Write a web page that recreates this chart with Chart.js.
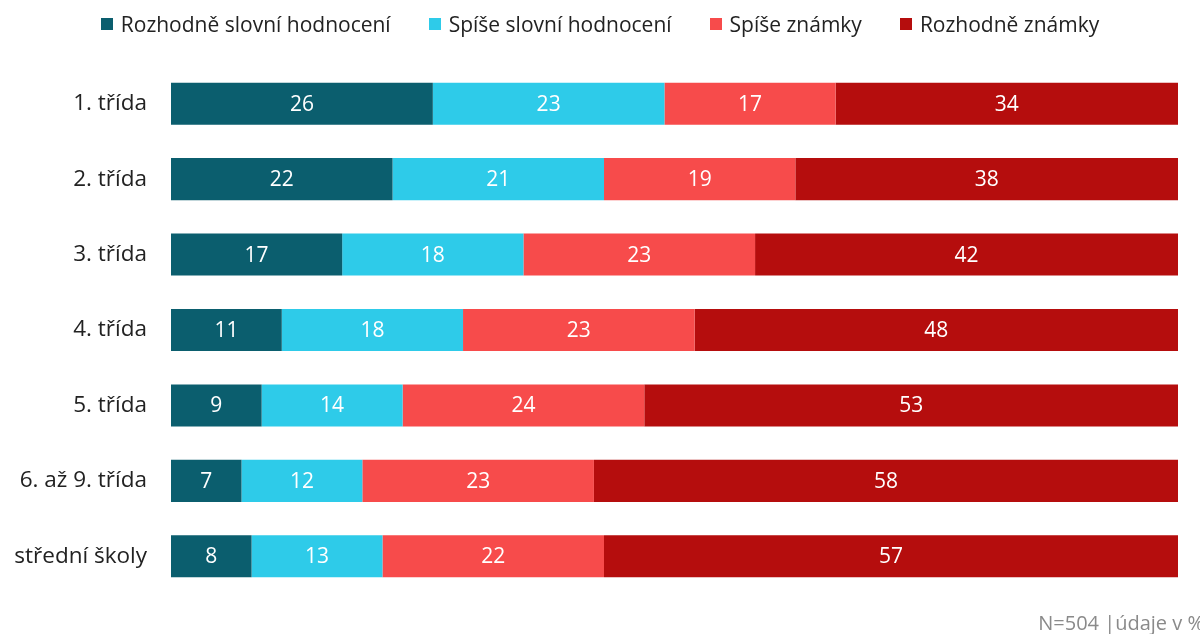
<!DOCTYPE html>
<html>
<head>
<meta charset="utf-8">
<script src="https://cdn.jsdelivr.net/npm/chart.js@4"></script>
<style>
  html, body { margin: 0; padding: 0; background: #fff; }
  #wrap { position: relative; width: 1200px; height: 634px; overflow: hidden; font-family: 'Open Sans', 'Noto Sans', sans-serif; }
  #legend { position: absolute; left: 0; right: 0; top: 10px; display: flex; justify-content: center; gap: 38px; font-size: 21px; color: #222; line-height: 28px; }
  #legend span.item { display: flex; align-items: center; }
  #legend span.box { display: inline-block; width: 12px; height: 12px; margin-right: 8px; }
  #foot { position: absolute; right: -4px; top: 609px; font-size: 20px; color: #8a8a8a; white-space: nowrap; }
</style>
</head>
<body>
<div id="wrap">
  <div id="legend"></div>
  <canvas id="chart" width="1200" height="634"></canvas>
  <div id="foot"></div>
</div>
<script>
// categories and series (percent)
const categories = ['1. třída', '2. třída', '3. třída', '4. třída', '5. třída', '6. až 9. třída', 'střední školy'];
const seriesNames = ['Rozhodně slovní hodnocení', 'Spíše slovní hodnocení', 'Spíše známky', 'Rozhodně známky'];
const rozhodneSlovni = [26, 22, 17, 11, 9, 7, 8];
const spiseSlovni = [23, 21, 18, 18, 14, 12, 13];
const spiseZnamky = [17, 19, 23, 23, 24, 23, 22];
const rozhodneZnamky = [34, 38, 42, 48, 53, 58, 57];
const colors = ['#0b5e6e', '#2ecbe9', '#f74b4b', '#b50d0d'];
const footNote = 'N=504 |údaje v %';

const FONT = "'Open Sans', 'Noto Sans', sans-serif";

// legend as html
document.getElementById('legend').innerHTML = seriesNames.map((name, i) =>
    `<span class="item"><span class="box" style="background:${colors[i]}"></span>${name}</span>`
).join('');
document.getElementById('foot').textContent = footNote;

// draws the value in the middle of every bar segment
const barLabels = {
    id: 'barLabels',
    afterDatasetsDraw(chart) {
        const ctx = chart.ctx;
        ctx.save();
        ctx.font = '21px ' + FONT;
        ctx.fillStyle = '#ffffff';
        ctx.textAlign = 'center';
        ctx.textBaseline = 'middle';
        chart.data.datasets.forEach((ds, i) => {
            chart.getDatasetMeta(i).data.forEach((bar, j) => {
                const p = bar.getProps(['x', 'y', 'base'], true);
                ctx.fillText(ds.data[j], (p.x + p.base) / 2, p.y + 1);
            });
        });
        ctx.restore();
    }
};

const data = [rozhodneSlovni, spiseSlovni, spiseZnamky, rozhodneZnamky];

new Chart(document.getElementById('chart'), {
    type: 'bar',
    data: {
        labels: categories,
        datasets: seriesNames.map((name, i) => ({
            label: name,
            data: data[i],
            backgroundColor: colors[i],
            borderWidth: 0,
            barPercentage: 1,
            categoryPercentage: 0.558
        }))
    },
    options: {
        indexAxis: 'y',
        responsive: false,
        animation: false,
        devicePixelRatio: 1,
        layout: { padding: { left: 0, right: 22, top: 66, bottom: 40 } },
        scales: {
            x: { stacked: true, min: 0, max: 100, display: false },
            y: {
                stacked: true,
                grid: { display: false, drawTicks: false },
                border: { display: false },
                ticks: { color: '#222', font: { family: FONT, size: 22.5 }, padding: 24 },
                afterFit(scale) { scale.width = 171; }
            }
        },
        plugins: {
            legend: { display: false },
            tooltip: { enabled: false }
        }
    },
    plugins: [barLabels]
});
</script>
</body>
</html>
